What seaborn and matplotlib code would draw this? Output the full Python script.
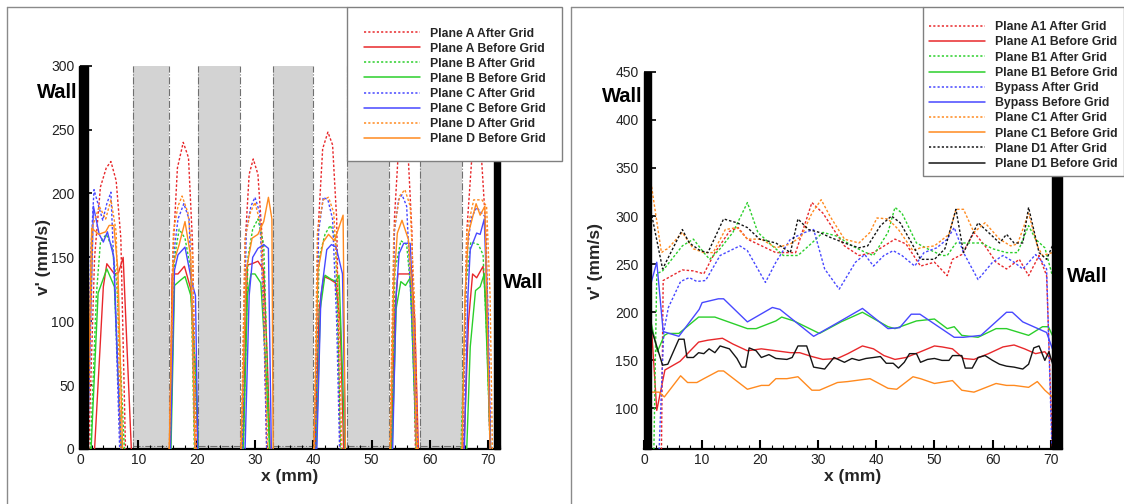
import numpy as np
import pandas as pd
import matplotlib
matplotlib.use("Agg")
import matplotlib.pyplot as plt
import seaborn as sns
from matplotlib.lines import Line2D
from matplotlib.patches import Rectangle
from matplotlib.ticker import MultipleLocator

sns.set_theme(style="white")
plt.rcParams["font.family"] = ["Liberation Sans", "DejaVu Sans"]

N = np.nan
# ---------------- left chart data (x in mm, v' in mm/s), NaN separates the channels ----------------
A_after_x = [1.5, 2.5, 3.5, 4.5, 5.3, 6.2, 7.0, 7.8, N, 15.4, 15.9, 16.7, 17.7, 18.6, 19.3, 19.9, N,
             27.7, 28.3, 29.0, 29.7, 30.5, 31.3, 32.0, N, 40.2, 40.8, 41.6, 42.5, 43.3, 44.0, 44.6, N,
             53.3, 53.9, 54.6, 55.4, 56.2, 56.9, 57.5, N, 65.6, 66.3, 67.2, 68.0, 68.8, 69.6, 70.4]
A_after_y = [0, 150, 205, 220, 225, 210, 165, 0, N, 0, 150, 220, 240, 228, 160, 0, N,
             0, 160, 215, 227, 215, 160, 0, N, 0, 170, 235, 248, 238, 180, 0, N,
             0, 180, 235, 245, 235, 170, 0, N, 0, 170, 230, 240, 230, 170, 0]
A_before_x = [2.5, 4.0, 4.6, 5.9, 6.6, 7.4, 8.8, N, 15.4, 15.8, 16.8, 17.9, 19.0, 19.8, 20.2, N,
              27.9, 28.7, 29.5, 30.5, 31.5, 32.1, 32.6, N, 40.3, 41.0, 41.8, 42.8, 43.8, 44.6, 45.2, N,
              53.4, 54.0, 54.5, 55.5, 56.4, 56.8, 57.4, 58.0, N, 65.8, 66.6, 67.3, 68.0, 69.1, 69.8, 70.3]
A_before_y = [0, 127, 145, 137, 138, 150, 0, N, 0, 137, 137, 143, 125, 60, 0, N,
              0, 144, 145, 147, 140, 70, 0, N, 0, 110, 135, 133, 130, 100, 0, N,
              0, 110, 137, 137, 137, 140, 100, 0, N, 0, 100, 137, 134, 143, 100, 0]
B_after_x = [1.8, 2.8, 3.5, 4.5, 5.5, 6.3, 7.0, 7.6, N, 15.5, 16.2, 17.0, 18.0, 19.0, 19.6, N,
             28.0, 28.8, 29.6, 30.5, 31.5, 32.5, N, 40.2, 41.0, 42.0, 42.9, 43.8, 44.7, N,
             53.3, 54.0, 55.0, 56.0, 56.8, 57.6, N, 65.3, 66.2, 67.0, 68.3, 69.1, 69.8, 70.3]
B_after_y = [0, 120, 162, 168, 158, 130, 60, 0, N, 0, 150, 172, 165, 140, 0, N,
             0, 150, 172, 180, 160, 0, N, 0, 150, 168, 175, 165, 0, N,
             0, 140, 163, 160, 120, 0, N, 0, 130, 162, 160, 152, 80, 0]
B_before_x = [1.9, 3.1, 4.6, 5.9, 6.5, 7.1, N, 15.6, 16.2, 17.2, 18.0, 19.0, 19.8, 20.3, N,
              28.0, 28.7, 29.3, 30.0, 31.0, 31.8, 32.5, N, 40.5, 41.2, 42.0, 43.0, 43.9, 44.4, 45.0, 45.4, N,
              53.5, 54.2, 55.0, 55.8, 56.6, 57.2, 57.8, N, 66.3, 66.9, 67.8, 68.6, 69.3, 69.9, 70.4]
B_before_y = [0, 122, 141, 127, 60, 0, N, 0, 128, 132, 135, 120, 60, 0, N,
              0, 120, 137, 137, 130, 70, 0, N, 0, 110, 136, 133, 131, 136, 60, 0, N,
              0, 110, 131, 128, 134, 60, 0, N, 0, 80, 124, 127, 137, 60, 0]
C_after_x = [1.3, 1.8, 2.4, 3.2, 3.9, 4.6, 5.3, 6.0, 6.8, N, 15.4, 16.0, 16.8, 17.8, 18.7, 19.3, 19.7, N,
             27.8, 28.5, 29.3, 30.0, 30.8, 31.5, 32.0, N, 40.3, 40.9, 41.7, 42.5, 43.3, 44.0, 44.5, N,
             53.2, 53.9, 54.6, 55.2, 56.0, 56.9, 57.7, N, 65.6, 66.3, 67.0, 68.0, 69.4, 70.0, 70.4]
C_after_y = [0, 150, 203, 190, 179, 192, 201, 120, 0, N, 0, 150, 180, 192, 180, 100, 0, N,
             0, 170, 190, 197, 185, 100, 0, N, 0, 170, 197, 195, 180, 100, 0, N,
             0, 170, 195, 199, 190, 100, 0, N, 0, 150, 180, 189, 182, 100, 0]
C_before_x = [1.3, 2.3, 3.3, 4.0, 4.7, 5.8, 6.5, 7.0, N, 15.5, 16.2, 16.8, 18.0, 19.2, 19.8, 20.2, N,
              28.3, 29.0, 29.6, 30.5, 31.5, 32.3, 32.8, N, 40.6, 41.3, 42.3, 43.1, 43.9, 45.0, 45.5, N,
              53.6, 54.2, 54.7, 55.5, 56.6, 57.2, 57.8, N, 65.9, 66.5, 66.9, 68.0, 68.6, 69.3, 69.9, 70.3]
C_before_y = [0, 190, 168, 162, 170, 150, 60, 0, N, 0, 140, 152, 158, 130, 120, 0, N,
              0, 120, 150, 157, 160, 157, 0, N, 0, 120, 156, 160, 158, 137, 0, N,
              0, 120, 153, 161, 161, 100, 0, N, 0, 120, 156, 169, 168, 180, 100, 0]
D_after_x = [1.3, 2.2, 3.3, 4.4, 5.3, 6.2, 7.0, N, 15.3, 16.0, 16.8, 17.5, 18.5, 19.3, 19.9, N,
             27.6, 28.3, 29.2, 30.0, 31.0, 32.2, N, 40.1, 40.7, 41.7, 42.6, 43.5, 44.3, 44.9, N,
             53.1, 53.8, 54.8, 55.7, 56.6, 57.3, 57.9, N, 65.5, 66.3, 67.5, 68.9, 69.7, 70.3, 70.7]
D_after_y = [0, 175, 190, 180, 195, 170, 0, N, 0, 170, 190, 198, 185, 150, 0, N,
             0, 165, 185, 193, 175, 0, N, 0, 170, 195, 197, 185, 120, 0, N,
             0, 170, 198, 203, 190, 120, 0, N, 0, 170, 195, 195, 190, 120, 0]
D_before_x = [1.2, 2.0, 3.2, 4.4, 5.0, 5.8, 6.5, 7.3, N, 15.3, 16.0, 17.0, 18.0, 19.0, 19.7, N,
              27.6, 28.5, 29.5, 30.5, 31.5, 32.3, 32.9, 33.1, N, 40.1, 40.8, 41.7, 42.6, 43.6, 45.1, 45.5, N,
              53.2, 53.8, 54.4, 55.2, 56.3, 57.0, 57.7, N, 65.5, 66.0, 66.6, 67.9, 68.6, 69.4, 70.3]
D_before_y = [0, 173, 168, 170, 175, 175, 140, 0, N, 0, 145, 160, 178, 150, 0, N,
              0, 140, 165, 168, 178, 197, 180, 0, N, 0, 140, 162, 168, 163, 183, 0, N,
              0, 130, 169, 179, 164, 120, 0, N, 0, 120, 169, 192, 183, 190, 0]

left_labels = ["Plane A After Grid", "Plane A Before Grid", "Plane B After Grid", "Plane B Before Grid",
               "Plane C After Grid", "Plane C Before Grid", "Plane D After Grid", "Plane D Before Grid"]

# grey blocks (grid bars) of the left chart, mm
block_start = [9.1, 20.3, 33.0, 45.8, 58.2]
block_end = [15.3, 27.5, 40.0, 53.0, 65.5]

# ---------------- right chart data ----------------
A1_after_x = [3.0, 3.3, 6.6, 8.5, 10.3, 12.2, 14.7, 16.2, 17.8, 22.7, 26.1, 28.9, 30.8, 34.5, 37.0, 39.5,
              43.2, 45.1, 47.6, 50.0, 52.2, 53.1, 54.7, 56.8, 58.7, 60.6, 62.4, 64.6, 66.2, 68.0, 69.3, 70.3]
A1_after_y = [57, 233, 244, 243, 240, 262, 284, 288, 276, 262, 262, 314, 303, 269, 259, 262,
              276, 271, 248, 252, 238, 255, 260, 283, 269, 252, 245, 255, 238, 259, 238, 60]
A1_before_x = [1.3, 2.2, 3.6, 6.2, 9.4, 11.0, 13.5, 15.3, 17.8, 20.2, 22.7, 25.2, 26.8, 28.9, 30.8, 33.3,
               35.1, 37.6, 39.5, 41.3, 43.2, 45.1, 47.6, 50.0, 51.3, 53.1, 55.0, 56.8, 59.3, 61.8, 63.7,
               65.5, 67.4, 69.0, 69.9, 70.3]
A1_before_y = [183, 98, 140, 149, 169, 171, 173, 167, 160, 162, 160, 158, 158, 154, 151, 152,
               157, 165, 162, 155, 151, 153, 159, 165, 164, 162, 152, 151, 157, 164, 166,
               162, 157, 159, 152, 150]
B1_after_x = [1.7, 2.2, 3.2, 6.6, 8.5, 10.3, 11.3, 13.1, 15.3, 17.8, 19.6, 22.1, 24.0, 26.5, 28.9, 30.8,
              33.3, 35.8, 38.2, 39.5, 42.0, 43.2, 44.4, 46.9, 48.8, 51.3, 52.2, 53.7, 56.2, 58.1, 60.0,
              62.4, 64.3, 66.2, 67.4, 69.0, 70.2]
B1_after_y = [57, 240, 243, 269, 276, 262, 255, 266, 283, 314, 283, 269, 259, 259, 272, 283,
              279, 269, 262, 259, 283, 309, 303, 272, 266, 259, 259, 272, 272, 272, 266,
              262, 262, 290, 276, 267, 240]
B1_before_x = [1.2, 2.3, 3.5, 4.1, 6.0, 9.4, 12.2, 17.8, 19.3, 22.7, 23.7, 25.8, 30.2, 33.9, 37.6, 42.0,
               43.2, 46.9, 50.0, 52.2, 53.4, 54.7, 57.5, 60.6, 62.4, 66.2, 68.6, 69.6, 70.3]
B1_before_y = [190, 159, 176, 178, 178, 195, 195, 183, 183, 191, 195, 191, 178, 190, 200, 185,
               183, 191, 193, 183, 185, 176, 174, 183, 183, 176, 185, 185, 176]
BP_after_x = [2.6, 3.4, 4.2, 6.3, 7.8, 9.1, 10.6, 13.1, 16.5, 17.8, 20.9, 22.7, 25.2, 27.7, 29.2, 31.1,
              33.6, 36.4, 38.0, 39.5, 41.3, 42.9, 44.4, 46.6, 48.2, 50.4, 52.2, 53.4, 55.0, 57.5, 60.0,
              61.8, 63.7, 65.2, 67.4, 68.6, 69.3, 70.2]
BP_after_y = [57, 180, 205, 232, 236, 232, 233, 259, 269, 264, 231, 252, 276, 283, 286, 245,
              224, 252, 260, 248, 259, 264, 259, 248, 262, 267, 276, 288, 262, 234, 252,
              259, 252, 245, 260, 252, 245, 62]
BP_before_x = [1.2, 2.2, 3.3, 6.0, 9.5, 10.0, 12.8, 13.7, 17.8, 22.1, 23.4, 26.5, 29.2, 33.0, 37.6, 42.0,
               44.0, 46.0, 47.5, 53.4, 55.0, 58.0, 62.4, 63.4, 65.2, 69.3, 70.3]
BP_before_y = [230, 252, 180, 175, 203, 210, 214, 214, 190, 205, 203, 188, 175, 188, 204, 183,
               184, 198, 198, 174, 174, 176, 200, 200, 190, 179, 162]
C1_after_x = [1.2, 3.0, 3.7, 4.1, 6.6, 8.5, 10.3, 11.9, 14.0, 16.0, 17.8, 20.2, 22.7, 25.2, 27.1, 28.9,
              30.5, 32.0, 34.5, 37.0, 38.9, 40.1, 42.0, 43.8, 46.3, 47.6, 50.0, 52.5, 53.7, 55.0, 56.8,
              58.7, 61.2, 63.1, 64.3, 66.2, 67.7, 68.6, 70.3]
C1_after_y = [335, 262, 265, 266, 283, 266, 262, 262, 286, 288, 276, 276, 267, 271, 279, 303,
              317, 300, 276, 272, 283, 298, 297, 286, 264, 267, 269, 281, 307, 307, 283,
              293, 276, 269, 271, 303, 269, 259, 262]
C1_before_x = [1.3, 2.6, 3.5, 6.3, 7.5, 9.1, 10.3, 12.8, 13.7, 17.8, 20.2, 21.5, 22.7, 24.6, 26.5, 28.9,
               30.2, 33.3, 35.1, 37.6, 38.9, 42.0, 43.5, 46.3, 47.6, 50.0, 53.1, 54.7, 56.8, 60.6, 62.4,
               63.7, 66.2, 67.7, 69.0, 70.3]
C1_before_y = [117, 117, 112, 134, 127, 127, 131, 139, 139, 120, 124, 124, 131, 131, 133, 119,
               119, 127, 128, 130, 131, 121, 120, 133, 131, 126, 129, 119, 117, 126, 124,
               124, 122, 128, 119, 112]
D1_after_x = [1.2, 3.2, 6.6, 7.8, 9.7, 11.0, 13.7, 16.0, 17.8, 19.9, 22.7, 25.2, 26.5, 28.3, 30.2, 32.0,
              34.5, 37.0, 38.5, 40.7, 42.6, 44.1, 45.7, 47.6, 50.0, 51.8, 53.7, 55.0, 57.5, 60.0, 61.2,
              62.4, 63.7, 65.2, 66.2, 68.0, 69.3, 70.3]
D1_after_y = [305, 245, 286, 272, 264, 262, 297, 293, 288, 276, 272, 262, 297, 286, 283, 278,
              272, 267, 269, 290, 300, 293, 276, 255, 255, 266, 307, 262, 293, 279, 272,
              281, 272, 272, 309, 262, 255, 269]
D1_before_x = [1.2, 3.2, 4.1, 6.0, 6.9, 7.4, 8.5, 9.4, 10.3, 11.2, 12.2, 13.1, 14.7, 16.0, 16.8, 17.5,
               18.1, 19.3, 20.2, 21.5, 22.7, 24.6, 25.5, 26.5, 28.0, 29.2, 31.1, 32.7, 34.5, 35.8, 37.0,
               38.2, 39.5, 40.7, 41.7, 42.9, 43.8, 44.8, 45.7, 46.9, 47.6, 48.8, 50.0, 51.3, 52.5, 53.1,
               54.7, 55.3, 56.5, 57.5, 58.7, 60.0, 61.2, 62.4, 63.7, 65.2, 66.2, 67.1, 68.0, 69.0, 69.7, 70.4]
D1_before_y = [184, 145, 146, 172, 172, 153, 153, 158, 157, 162, 158, 165, 162, 152, 143, 143,
               163, 160, 153, 156, 152, 151, 153, 165, 165, 143, 141, 153, 148, 152, 150,
               152, 153, 154, 147, 147, 142, 148, 157, 157, 148, 151, 152, 150, 150, 155,
               155, 142, 142, 153, 155, 150, 146, 144, 143, 141, 146, 163, 165, 150, 159, 145]

right_labels = ["Plane A1 After Grid", "Plane A1 Before Grid", "Plane B1 After Grid", "Plane B1 Before Grid",
                "Bypass After Grid", "Bypass Before Grid", "Plane C1 After Grid", "Plane C1 Before Grid",
                "Plane D1 After Grid", "Plane D1 Before Grid"]

# ---------------- styles ----------------
RED, GREEN, BLUE, ORANGE, BLACK = "#e8282b", "#2bcf2b", "#4848ff", "#ff8a1f", "#151515"
DOT = (0, (1.8, 1.4))
W, H = 1124, 504

fig = plt.figure(figsize=(11.24, 5.04), dpi=100)
ax1 = fig.add_axes([80 / W, 1 - 449 / H, 420 / W, (449 - 65.7) / H])
ax2 = fig.add_axes([644 / W, 1 - 449.3 / H, 417.7 / W, (449.3 - 71.7) / H])


def draw(ax, x, y, color, dotted):
    x = np.asarray(x, float)
    y = np.asarray(y, float)
    seg = np.cumsum(np.isnan(x))
    df = pd.DataFrame({"x": x, "y": y, "seg": seg}).dropna()
    sns.lineplot(data=df, x="x", y="y", units="seg", estimator=None, sort=False, ax=ax,
                 color=color, linewidth=1.0, linestyle=DOT if dotted else "-", legend=False, zorder=3)


left_series = [(A_after_x, A_after_y, RED, True), (A_before_x, A_before_y, RED, False),
               (B_after_x, B_after_y, GREEN, True), (B_before_x, B_before_y, GREEN, False),
               (C_after_x, C_after_y, BLUE, True), (C_before_x, C_before_y, BLUE, False),
               (D_after_x, D_after_y, ORANGE, True), (D_before_x, D_before_y, ORANGE, False)]
right_series = [(A1_after_x, A1_after_y, RED, True), (A1_before_x, A1_before_y, RED, False),
                (B1_after_x, B1_after_y, GREEN, True), (B1_before_x, B1_before_y, GREEN, False),
                (BP_after_x, BP_after_y, BLUE, True), (BP_before_x, BP_before_y, BLUE, False),
                (C1_after_x, C1_after_y, ORANGE, True), (C1_before_x, C1_before_y, ORANGE, False),
                (D1_after_x, D1_after_y, BLACK, True), (D1_before_x, D1_before_y, BLACK, False)]

for s in left_series:
    draw(ax1, *s)
for s in right_series:
    draw(ax2, *s)

# grey blocks in the left chart
for x0, x1 in zip(block_start, block_end):
    ax1.axvspan(x0, x1, color="#d3d3d3", zorder=1, lw=0)
    ax1.vlines([x0, x1], 0, 300, colors="#707070", linestyles="dashdot", linewidth=0.8, zorder=1.5)
    ax1.hlines(2.5, x0, x1, colors="#707070", linestyles="dashdot", linewidth=0.8, zorder=1.5)

# axes styling
for ax, xmax, ylo, yhi, ystep in [(ax1, 72.0, 0, 300, 50), (ax2, 71.9, 57.6, 450, 50)]:
    ax.set_xlim(0, xmax)
    ax.set_ylim(ylo, yhi)
    ax.set_axisbelow(False)
    ax.set_facecolor("white")
    for sp in ["left", "right", "top"]:
        ax.spines[sp].set_visible(False)
    ax.spines["bottom"].set_color("black")
    ax.spines["bottom"].set_linewidth(1.6)
    ax.xaxis.set_major_locator(MultipleLocator(10))
    ax.xaxis.set_minor_locator(MultipleLocator(2))
    ax.yaxis.set_major_locator(MultipleLocator(ystep))
    ax.tick_params(axis="x", which="major", direction="in", length=6.5, width=1.5, color="black",
                   pad=3, labelsize=10, labelcolor="#222222", bottom=True)
    ax.tick_params(axis="x", which="minor", direction="in", length=3, width=0.8, color="black", bottom=True)
    ax.tick_params(axis="y", which="major", direction="in", length=8.5, width=1.2, color="black",
                   pad=4, labelsize=10, labelcolor="#222222", left=True)
    ax.set_xlabel("x (mm)", fontsize=12.5, fontweight="bold")
    ax.set_ylabel("v' (mm/s)", fontsize=12.5, fontweight="bold")
    ax.xaxis.label.set_va("center")
    ax.yaxis.label.set_va("center")

ax1.set_yticks([0, 50, 100, 150, 200, 250, 300])
ax2.set_yticks([100, 150, 200, 250, 300, 350, 400, 450])
ax1.xaxis.set_label_coords(0.5, -0.073)
ax2.xaxis.set_label_coords(0.5, -0.0733)
ax1.yaxis.set_label_coords(-0.088, 0.5)
ax2.yaxis.set_label_coords(-0.117, 0.5)

# walls
ax1.add_patch(Rectangle((-0.2, 0), 1.65, 300, color="black", zorder=4, clip_on=False))
ax1.add_patch(Rectangle((70.9, 0), 1.1, 300, color="black", zorder=4, clip_on=False))
ax2.add_patch(Rectangle((0, 57.6), 1.2, 392.4, color="black", zorder=4, clip_on=False))
ax2.add_patch(Rectangle((70.2, 57.6), 1.7, 392.4, color="black", zorder=4, clip_on=False))

wall_kw = dict(fontsize=14.5, fontweight="bold", va="center", color="black")
fig.text(77 / W, 1 - 93 / H, "Wall", ha="right", **wall_kw)
fig.text(503 / W, 1 - 282 / H, "Wall", ha="left", **wall_kw)
fig.text(642 / W, 1 - 97 / H, "Wall", ha="right", **wall_kw)
fig.text(1067 / W, 1 - 277 / H, "Wall", ha="left", **wall_kw)


def handles(series):
    return [Line2D([], [], color=c, lw=1.1, linestyle=(0, (1.4, 1.4)) if d else "-") for _, _, c, d in series]


leg_kw = dict(loc="upper left", bbox_transform=fig.transFigure, frameon=True, fancybox=False,
              edgecolor="#808080", framealpha=1, handletextpad=0.8, handlelength=4.6, borderaxespad=0,
              prop={"weight": "bold", "size": 8.8}, title=" ")
leg1 = fig.legend(handles(left_series), left_labels, bbox_to_anchor=(347 / W, 1 - 7 / H),
                  borderpad=1.35, labelspacing=0.25, title_fontsize=1.0, **leg_kw)
leg2 = fig.legend(handles(right_series), right_labels, bbox_to_anchor=(922.7 / W, 1 - 7 / H),
                  borderpad=0.5, labelspacing=0.26, title_fontsize=4.0, **leg_kw)
for lg in (leg1, leg2):
    lg.get_frame().set_linewidth(1.0)
    lg.set_zorder(10)

# panel frames
fcol = "#8a8a8a"
for xs, ys in [([7, 7], [7, 504]), ([7, 347], [7, 7]), ([571, 571], [7, 504]), ([571, 923], [7, 7])]:
    fig.add_artist(Line2D([v / W for v in xs], [1 - v / H for v in ys], color=fcol, lw=1.0,
                          transform=fig.transFigure))

fig.savefig("out.png", dpi=100)
